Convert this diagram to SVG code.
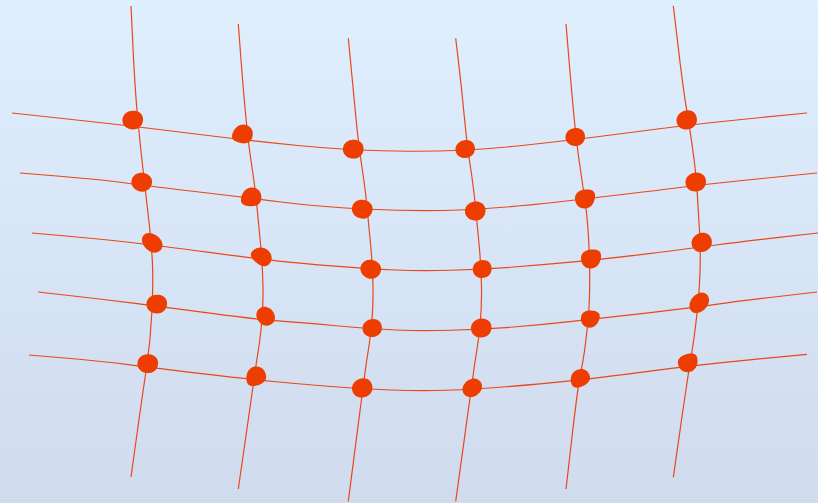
<svg xmlns="http://www.w3.org/2000/svg" xmlns:xlink="http://www.w3.org/1999/xlink" width="818" height="503" viewBox="0 0 818 503">
<defs>
<linearGradient id="bg" x1="0" y1="0" x2="0" y2="1">
<stop offset="0" stop-color="#DFEFFE"/>
<stop offset="1" stop-color="#D0DBEE"/>
</linearGradient>
<path id="blobA" d="M-10,1 C-10.5,-5 -5,-9.5 1,-9.5 C6.5,-9.5 10.5,-6 10.5,-0.5 C10.5,5.5 6,9.5 0,9.5 C-5.5,9.5 -9.7,6 -10,1 Z"/>
<path id="blobB" d="M-10,-1 C-10,-7 -4,-9.5 2,-9.5 C7,-9.5 10.5,-8 10,-2 C9.5,4 6,9.5 -0.5,9.5 C-6.5,9.5 -10,5 -10,-1 Z"/>
</defs>
<style>
.ln{fill:none;stroke:#EA4718;stroke-width:1.2}
.blob{fill:#EE3D00}
</style>
<rect width="818" height="503" fill="url(#bg)"/>
<g id="connectors">
<path class="ln" d="M12,113 L72,119.5 Q132,126 187.5,133 Q243,140 298,145.5 Q353,151 409,151.25 Q465,151.5 520,145.75 Q575,140 630.5,132.5 Q686,125 746.5,119 L807,113"/>
<path class="ln" d="M20,173 L60,176.25 Q100,179.5 126,183 Q152,186.5 197,191.75 Q242,197 281,202 Q320,207 369,209.25 Q418,211.5 459,210 Q500,208.5 560,201.75 Q620,195 663.5,189.5 Q707,184 762,178.5 L817,173"/>
<path class="ln" d="M32,233 L66,236 Q100,239 131,242.5 Q162,246 207.5,252.15 Q253,258.3 276.5,260.8 Q300,263.3 335,266.15 Q370,269 395,270 Q420,271 451,270.25 Q482,269.5 511,267.25 Q540,265 571,262.15 Q602,259.3 647,253.8 Q692,248.3 716,245 Q740,241.7 779,237.35 L818,233"/>
<path class="ln" d="M38,292 L69,295.5 Q100,299 133.35,303.15 Q166.7,307.3 211.7,313.3 Q256.7,319.3 278.35,320.9 Q300,322.5 336,325.75 Q372,329 396,330 Q420,331 450.5,330.25 Q481,329.5 510.5,327.25 Q540,325 569.65,321.65 Q599.3,318.3 643.8,313.3 Q688.3,308.3 714.15,304.65 Q740,301 778.5,296.5 L817,292"/>
<path class="ln" d="M29,355 L64.5,358 Q100,361 128.35,364.65 Q156.7,368.3 201.7,373.65 Q246.7,379 273.35,381.5 Q300,384 331,386.5 Q362,389 391,390 Q420,391 446,390.25 Q472,389.5 506,386.75 Q540,384 570,380.85 Q600,377.7 648.35,371.35 Q696.7,365 751.85,359.65 L807,354.3"/>
<path class="ln" d="M131,6 L133,48 Q135,90 137.85,120 Q140.7,150 144.2,180 Q147.7,210 149.6,227.5 Q151.5,245 152.4,262.5 Q153.3,280 152,310 Q150.7,340 146.2,370 Q141.7,400 136.35,438.5 L131,477"/>
<path class="ln" d="M238.3,24 L240.8,57 Q243.3,90 245.8,116.5 Q248.3,143 251.65,165 Q255,187 256.65,203.5 Q258.3,220 260.5,243.5 Q262.7,267 263,287 Q263.3,307 261.65,323.5 Q260,340 258.35,350 Q256.7,360 255,372.5 Q253.3,385 245.8,437 L238.3,489"/>
<path class="ln" d="M348.3,38.3 L350.8,64.15 Q353.3,90 355.8,116.5 Q358.3,143 361.65,165 Q365,187 366.65,203.5 Q368.3,220 370.5,243.5 Q372.7,267 373,287 Q373.3,307 371.65,323.5 Q370,340 368.35,350 Q366.7,360 365,372.5 Q363.3,385 355.8,443.15 L348.3,501.3"/>
<path class="ln" d="M455.7,38.3 L458.75,64.15 Q461.8,90 464.3,116.5 Q466.8,143 470.15,165 Q473.5,187 475.15,203.5 Q476.8,220 479,243.5 Q481.2,267 481.5,287 Q481.8,307 480.15,323.5 Q478.5,340 476.85,350 Q475.2,360 473.5,372.5 Q471.8,385 463.75,443.15 L455.7,501.3"/>
<path class="ln" d="M566,24 L568.75,57 Q571.5,90 574,116.5 Q576.5,143 579.75,165 Q583,187 585.35,203.5 Q587.7,220 588.85,244 Q590,268 589.65,288.5 Q589.3,309 587.65,324.5 Q586,340 584.5,351 Q583,362 580.5,373.5 Q578,385 572,437 L566,489"/>
<path class="ln" d="M673.3,5.7 L678.3,47.85 Q683.3,90 686.65,109.65 Q690,129.3 693,151.3 Q696,173.3 697.15,191.65 Q698.3,210 699.5,231 Q700.7,252 700,272.5 Q699.3,293 696.65,316.5 Q694,340 691.15,356.5 Q688.3,373 680.8,425.15 L673.3,477.3"/>
</g>
<g id="n11"><use class="blob" xlink:href="#blobA" transform="translate(132.5,120) rotate(10)"/></g>
<g id="n12"><use class="blob" xlink:href="#blobB" transform="translate(243,134) rotate(200)"/></g>
<g id="n13"><use class="blob" xlink:href="#blobA" transform="translate(353,149) rotate(15)"/></g>
<g id="n14"><use class="blob" xlink:href="#blobA" transform="translate(465,149) rotate(-5) scale(0.95,0.95)"/></g>
<g id="n15"><use class="blob" xlink:href="#blobA" transform="translate(575,137) rotate(5) scale(0.95,0.95)"/></g>
<g id="n16"><use class="blob" xlink:href="#blobA" transform="translate(686.5,120) rotate(-10)"/></g>
<g id="n21"><use class="blob" xlink:href="#blobA" transform="translate(141.5,182) rotate(20)"/></g>
<g id="n22"><use class="blob" xlink:href="#blobB" transform="translate(251.5,197) rotate(190)"/></g>
<g id="n23"><use class="blob" xlink:href="#blobA" transform="translate(362,209) rotate(25)"/></g>
<g id="n24"><use class="blob" xlink:href="#blobA" transform="translate(475,211) rotate(5)"/></g>
<g id="n25"><use class="blob" xlink:href="#blobB" transform="translate(585,199) rotate(0)"/></g>
<g id="n26"><use class="blob" xlink:href="#blobA" transform="translate(695.5,182) rotate(0)"/></g>
<g id="n31"><use class="blob" xlink:href="#blobA" transform="translate(152,242.5) rotate(45) scale(1.1,0.88)"/></g>
<g id="n32"><use class="blob" xlink:href="#blobB" transform="translate(262,256.5) rotate(225) scale(1.05,0.9)"/></g>
<g id="n33"><use class="blob" xlink:href="#blobA" transform="translate(370.5,269) rotate(30)"/></g>
<g id="n34"><use class="blob" xlink:href="#blobA" transform="translate(482,269) rotate(0) scale(0.92,0.95)"/></g>
<g id="n35"><use class="blob" xlink:href="#blobB" transform="translate(591,259) rotate(0)"/></g>
<g id="n36"><use class="blob" xlink:href="#blobA" transform="translate(701.5,242.5) rotate(-15)"/></g>
<g id="n41"><use class="blob" xlink:href="#blobA" transform="translate(156.5,304) rotate(10)"/></g>
<g id="n42"><use class="blob" xlink:href="#blobA" transform="translate(265.5,316) rotate(60) scale(0.95,0.92)"/></g>
<g id="n43"><use class="blob" xlink:href="#blobA" transform="translate(372,328) rotate(-5) scale(0.95,0.95)"/></g>
<g id="n44"><use class="blob" xlink:href="#blobA" transform="translate(481,328) rotate(0)"/></g>
<g id="n45"><use class="blob" xlink:href="#blobB" transform="translate(590,319) rotate(10) scale(0.92,0.92)"/></g>
<g id="n46"><use class="blob" xlink:href="#blobA" transform="translate(699,303) rotate(-45) scale(1.1,0.88)"/></g>
<g id="n51"><use class="blob" xlink:href="#blobA" transform="translate(147.5,363.5) rotate(15)"/></g>
<g id="n52"><use class="blob" xlink:href="#blobB" transform="translate(256,376) rotate(170)"/></g>
<g id="n53"><use class="blob" xlink:href="#blobA" transform="translate(362,388) rotate(-10)"/></g>
<g id="n54"><use class="blob" xlink:href="#blobA" transform="translate(472,388) rotate(-30) scale(1,0.9)"/></g>
<g id="n55"><use class="blob" xlink:href="#blobB" transform="translate(580,378) rotate(160) scale(1,0.9)"/></g>
<g id="n56"><use class="blob" xlink:href="#blobB" transform="translate(688,363) rotate(-10) scale(1,0.95)"/></g>
</svg>
